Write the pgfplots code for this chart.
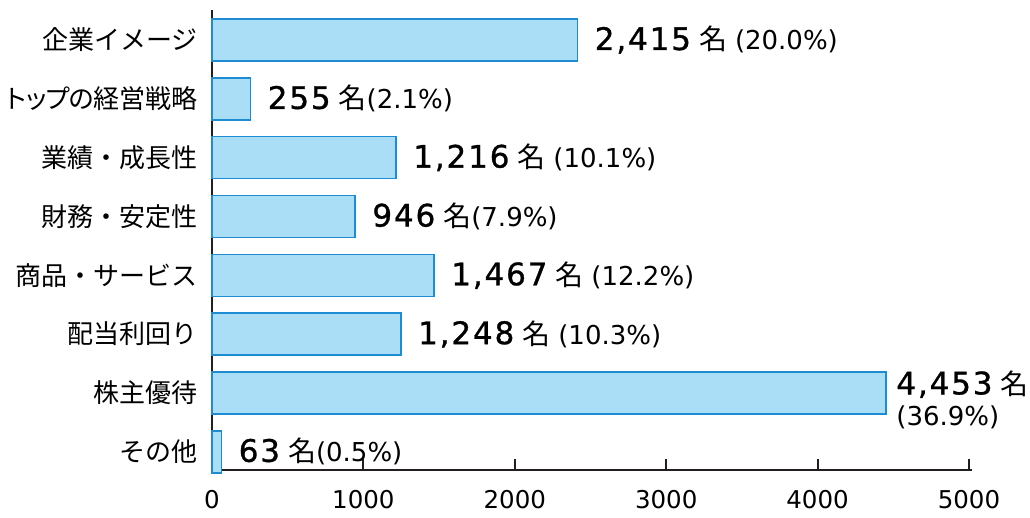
\documentclass[border=0pt]{standalone}
\usepackage{pgfplots}
\pgfplotsset{compat=1.18}
\usepackage{fontspec}
\setmainfont{DejaVu Sans}
\newfontfamily\jp{Noto Sans CJK JP}
\newfontfamily\jpp[RawFeature=+palt]{Noto Sans CJK JP}
\newfontfamily\numfont[FakeBold=1, LetterSpace=6]{DejaVu Sans}
\definecolor{barfill}{RGB}{170,222,247}
\definecolor{bardraw}{RGB}{30,140,210}
\definecolor{axcol}{RGB}{35,31,32}
\newcommand{\cnt}[1]{{\numfont\fontsize{31}{31}\selectfont #1}\hspace{8pt}{\jp\fontsize{28}{28}\selectfont 名}}
\newcommand{\pct}[1]{{\fontsize{26}{26}\selectfont (#1\%)}}
\begin{document}
\begin{tikzpicture}
\begin{axis}[
  scale only axis,
  width=760pt, height=460pt,
  xmin=0, xmax=5020,
  ymin=-0.31, ymax=7.51,
  axis x line=bottom, axis y line=left,
  axis line style={-, line width=2.5pt, color=axcol},
  xtick={0,1000,2000,3000,4000,5000},
  xticklabels={0,1000,2000,3000,4000,5000},
  tick align=inside,
  major tick length=11pt,
  x tick style={line width=2pt, color=axcol},
  xticklabel style={font=\fontsize{24.5}{24.5}\selectfont, yshift=-17pt},
  ytick={0,1,2,3,4,5,6,7},
  yticklabels={その他,株主優待,配当利回り,商品・サービス,財務・安定性,業績・成長性,{\jpp トッ\kern-1ptプ\kern-1ptの経営戦略},企業イメージ},
  y tick style={draw=none},
  yticklabel style={font=\jp\fontsize{26}{26}\selectfont, anchor=east, inner sep=0pt, xshift=-14pt},
  clip=false,
]
\addplot[xbar, bar width=42pt, fill=barfill, draw=bardraw, line width=1.5pt]
  coordinates {(2415,7) (255,6) (1216,5) (946,4) (1467,3) (1248,2) (4453,1) (63,0)};
\node[anchor=west, inner sep=0pt] at (axis cs:2415,7) {\hspace{17pt}\cnt{2,415}\hspace{8pt}\pct{20.0}};
\node[anchor=west, inner sep=0pt] at (axis cs:255,6) {\hspace{17pt}\cnt{255}\pct{2.1}};
\node[anchor=west, inner sep=0pt] at (axis cs:1216,5) {\hspace{17pt}\cnt{1,216}\hspace{8pt}\pct{10.1}};
\node[anchor=west, inner sep=0pt] at (axis cs:946,4) {\hspace{17pt}\cnt{946}\pct{7.9}};
\node[anchor=west, inner sep=0pt] at (axis cs:1467,3) {\hspace{17pt}\cnt{1,467}\hspace{8pt}\pct{12.2}};
\node[anchor=west, inner sep=0pt] at (axis cs:1248,2) {\hspace{17pt}\cnt{1,248}\hspace{8pt}\pct{10.3}};
\node[anchor=north west, inner sep=0pt, align=left] at (axis cs:4453,1.38) {\hspace{10pt}\cnt{4,453}\\[7pt]\hspace{10pt}\pct{36.9}};
\node[anchor=west, inner sep=0pt] at (axis cs:63,0) {\hspace{17pt}\cnt{63}\pct{0.5}};
\end{axis}
\path (-212pt,-48pt) rectangle (818pt,470pt);
\end{tikzpicture}
\end{document}
